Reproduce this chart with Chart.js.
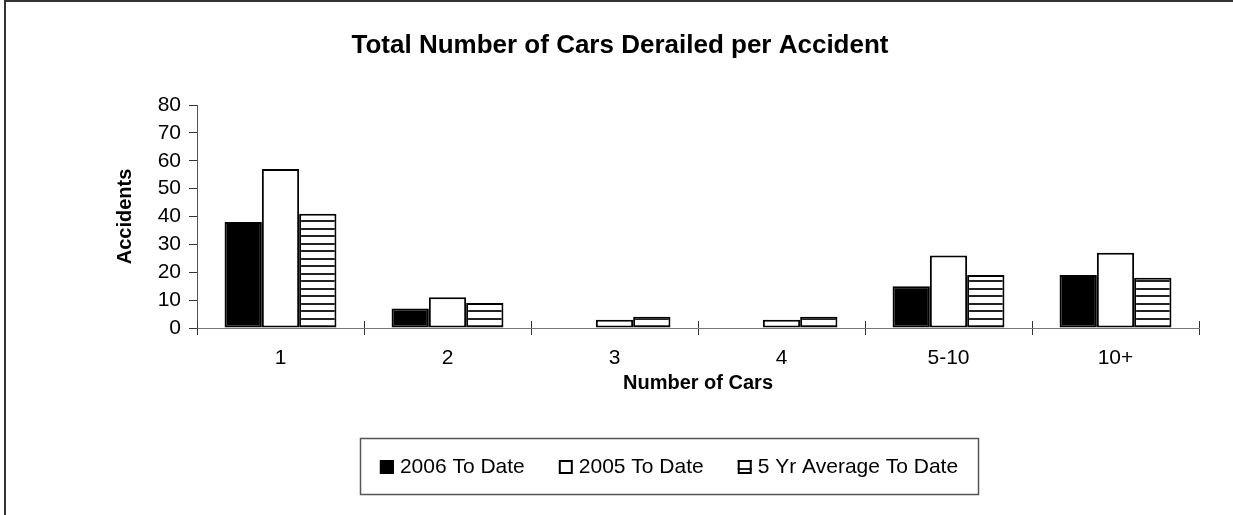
<!DOCTYPE html>
<html><head><meta charset="utf-8">
<script src="https://cdn.jsdelivr.net/npm/chart.js@4.4.1/dist/chart.umd.min.js"></script>
<style>html,body{margin:0;padding:0;background:#fff;overflow:hidden}canvas{display:block}</style>
</head><body>
<canvas id="c" width="1233" height="515"></canvas>
<script>
const categories = ['1', '2', '3', '4', '5-10', '10+'];
const series2006 = [38, 7, 0, 0, 15, 19];
const series2005 = [57, 11, 3, 3, 26, 27];
const series5yr = [41, 9, 4, 4, 19, 18];
const seriesNames = ['2006 To Date', '2005 To Date', '5 Yr Average To Date'];
const yTicks = [0, 10, 20, 30, 40, 50, 60, 70, 80];
const chartTitle = 'Total Number of Cars Derailed per Accident';
const xTitle = 'Number of Cars';
const yTitle = 'Accidents';

const FAM = '"Liberation Sans", Arial, Helvetica, sans-serif';

function makeStripes(ctx) {
  const p = document.createElement('canvas');
  p.width = 8; p.height = 15;
  const g = p.getContext('2d');
  g.fillStyle = '#fff'; g.fillRect(0, 0, 8, 15);
  g.fillStyle = '#222';
  g.fillRect(0, 3, 8, 2);
  g.fillRect(0, 10, 8, 2);
  return ctx.createPattern(p, 'repeat');
}

const ctx = document.getElementById('c').getContext('2d');
const stripes = makeStripes(ctx);

const decorPlugin = {
  id: 'decor',
  beforeDraw(chart) {
    const c = chart.ctx;
    c.save();
    c.fillStyle = '#fff';
    c.fillRect(0, 0, chart.width, chart.height);
    c.restore();
  },
  afterDraw(chart) {
    const c = chart.ctx;
    c.save();
    // outer frame (extends beyond the picture on right/bottom)
    c.strokeStyle = '#333';
    c.lineWidth = 2;
    c.beginPath();
    c.moveTo(5, chart.height + 5);
    c.lineTo(5, 1);
    c.lineTo(chart.width + 5, 1);
    c.stroke();

    // title
    c.fillStyle = '#000';
    c.font = 'bold 26px ' + FAM;
    c.textAlign = 'center';
    c.textBaseline = 'alphabetic';
    c.fillText(chartTitle, 620, 53);

    // inward part of x-axis tick marks (category boundaries)
    const xs = chart.scales.x;
    const n = categories.length;
    c.strokeStyle = '#333';
    c.lineWidth = 1;
    c.beginPath();
    for (let i = 0; i <= n; i++) {
      const x = Math.round(xs.left + i * xs.width / n) + 0.5;
      c.moveTo(x, xs.top - 7);
      c.lineTo(x, xs.top);
    }
    c.stroke();

    // legend
    c.font = '21px ' + FAM;
    c.textAlign = 'left';
    c.textBaseline = 'middle';
    const items = chart.data.datasets.map(d => ({ text: d.label, fill: d.backgroundColor }));
    const box = 14, gap = 6, sep = 34, padX = 20;
    const widths = items.map(it => box + gap + c.measureText(it.text).width);
    const total = widths.reduce((a, b) => a + b, 0) + sep * (items.length - 1);
    const cx = 669, cy = 467;
    let x = cx - total / 2;
    c.strokeStyle = '#555';
    c.lineWidth = 1.5;
    c.strokeRect(Math.round(x - padX) + 0.5, 438.5, Math.round(total + 2 * padX), 56);
    items.forEach((it, i) => {
      c.fillStyle = it.fill;
      c.fillRect(x, cy - 7, box, box);
      c.strokeStyle = '#000';
      c.lineWidth = 2;
      c.strokeRect(x + 1, cy - 6, box - 2, box - 2);
      c.fillStyle = '#000';
      c.fillText(it.text, x + box + gap, cy);
      x += widths[i] + sep;
    });
    c.restore();
  }
};

new Chart(ctx, {
  type: 'bar',
  data: {
    labels: categories,
    datasets: [
      { label: seriesNames[0], data: series2006, backgroundColor: '#000', borderColor: '#000', borderWidth: 2 },
      { label: seriesNames[1], data: series2005, backgroundColor: '#fff', borderColor: '#000', borderWidth: 2 },
      { label: seriesNames[2], data: series5yr, backgroundColor: stripes, borderColor: '#000', borderWidth: 2 }
    ]
  },
  options: {
    responsive: false,
    animation: false,
    devicePixelRatio: 1,
    layout: { padding: { left: 0, right: 34, top: 105, bottom: 120 } },
    datasets: { bar: { categoryPercentage: 0.67, barPercentage: 1.0, borderSkipped: false } },
    plugins: { legend: { display: false }, title: { display: false }, tooltip: { enabled: false } },
    scales: {
      x: {
        grid: { offset: true, drawOnChartArea: false, tickLength: 7, color: '#333', lineWidth: 1 },
        border: { color: '#777', width: 1 },
        ticks: { font: { family: FAM, size: 21 }, color: '#000', padding: 11, autoSkip: false, maxRotation: 0 },
        title: { display: true, text: xTitle, color: '#000', font: { family: FAM, size: 20, weight: 'bold' }, padding: { top: 0, bottom: 0 } },
        afterFit(s) { s.height = 67; }
      },
      y: {
        min: 0, max: 80,
        afterBuildTicks(s) { s.ticks = yTicks.map(v => ({ value: v })); },
        grid: { drawOnChartArea: false, tickLength: 8, color: '#333', lineWidth: 1 },
        border: { color: '#555', width: 1 },
        ticks: { font: { family: FAM, size: 21 }, color: '#000', padding: 8, autoSkip: false },
        title: { display: true, text: yTitle, color: '#000', font: { family: FAM, size: 20, weight: 'bold' }, padding: { top: 113.5, bottom: 0 } },
        afterFit(s) { s.width = 197; }
      }
    }
  },
  plugins: [decorPlugin]
});
</script>
</body></html>
